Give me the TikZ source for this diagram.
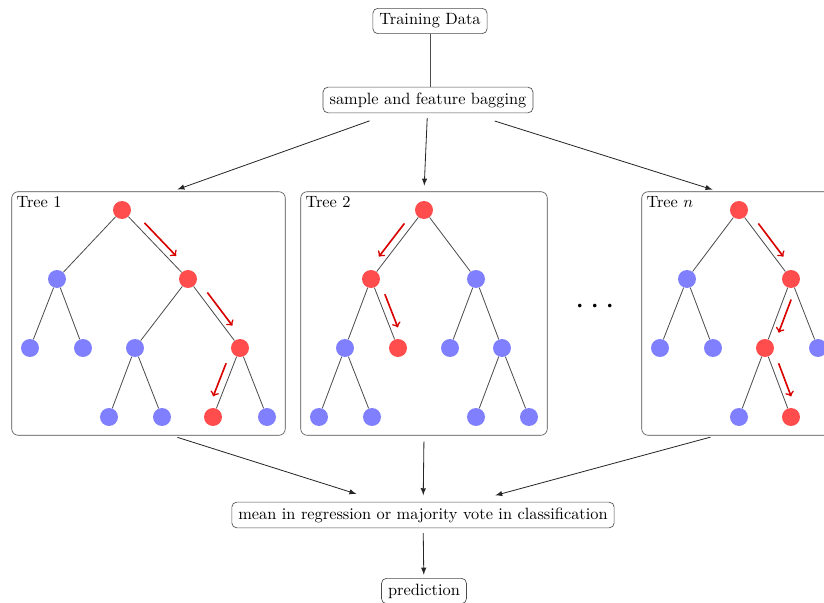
\documentclass[tikz,border=0pt]{standalone}
\usepackage{amsmath}
\usepackage{tikz}
\usetikzlibrary{calc,fit,arrows}

\tikzset{
  stagebox/.style={draw=black!70, rounded corners=3pt, inner ysep=3.3pt, inner xsep=4pt},
  treebox/.style={draw=black!70, rounded corners=4pt, inner sep=5.5pt},
  hit/.style={circle, fill=red!70, minimum size=11pt, inner sep=0pt},
  miss/.style={circle, fill=blue!50, minimum size=11pt, inner sep=0pt},
  branch/.style={draw=black!70, line width=0.5pt},
  flow/.style={-latex, draw=black!85, line width=0.5pt},
  walk/.style={->, draw=red!85!black, line width=1pt}
}
% red arrow running beside a branch, on side #3 (90 or -90)
\newcommand{\walkstep}[3]{\draw[walk] ($(#1)!0.26!(#2)!4.5pt!#3:(#2)$) -- ($(#1)!0.74!(#2)!4.5pt!#3:(#2)$);}

\begin{document}
\begin{tikzpicture}[x=0.0215cm, y=-0.0215cm]
    \useasboundingbox (0,0) rectangle (824,603);

    % pipeline
    \node[stagebox] (data) at (430,21) {Training Data};
    \node[stagebox] (bag) at (428,100) {sample and feature bagging};
    \node[stagebox] (mean) at (423,515) {mean in regression or majority vote in classification};
    \node[stagebox] (pred) at (424,591) {prediction};

    % tree 1
    \foreach \n/\x/\y/\s in {t1r/122/210/hit, t1a/57/279/miss, t1b/188/279/hit,
        t1c/30/348/miss, t1d/83/348/miss, t1e/135/348/miss, t1f/240/348/hit,
        t1g/109/417/miss, t1h/162/417/miss, t1i/213/417/hit, t1j/267/417/miss}
        \node[\s] (\n) at (\x,\y) {};
    \foreach \p/\c in {t1r/t1a, t1r/t1b, t1a/t1c, t1a/t1d, t1b/t1e, t1b/t1f,
        t1e/t1g, t1e/t1h, t1f/t1i, t1f/t1j}
        \draw[branch] (\p) -- (\c);
    \walkstep{t1r}{t1b}{90}
    \walkstep{t1b}{t1f}{90}
    \walkstep{t1f}{t1i}{-90}
    \node[treebox, fit=(t1r)(t1c)(t1g)(t1j)] (box1) {};
    \node[anchor=north west, inner sep=3pt] (lab1) at (box1.north west) {Tree 1};

    % tree 2
    \foreach \n/\x/\y/\s in {t2r/424/210/hit, t2a/371/279/hit, t2b/476/279/miss,
        t2c/345/348/miss, t2d/398/348/hit, t2e/450/348/miss, t2f/502/348/miss,
        t2g/319/417/miss, t2h/372/417/miss, t2i/476/417/miss, t2j/529/417/miss}
        \node[\s] (\n) at (\x,\y) {};
    \foreach \p/\c in {t2r/t2a, t2r/t2b, t2a/t2c, t2a/t2d, t2c/t2g, t2c/t2h,
        t2b/t2e, t2b/t2f, t2f/t2i, t2f/t2j}
        \draw[branch] (\p) -- (\c);
    \walkstep{t2r}{t2a}{-90}
    \walkstep{t2a}{t2d}{90}
    \node[treebox, fit=(t2r)(t2g)(t2j)] (box2) {};
    \node[anchor=north west, inner sep=3pt] (lab2) at (box2.north west) {Tree 2};

    % tree n
    \foreach \n/\x/\y/\s in {tnr/739/210/hit, tna/687/279/miss, tnb/791/279/hit,
        tnc/660/348/miss, tnd/713/348/miss, tne/765/348/hit, tnf/818/348/miss,
        tng/739/417/miss, tnh/791/417/hit}
        \node[\s] (\n) at (\x,\y) {};
    \foreach \p/\c in {tnr/tna, tnr/tnb, tna/tnc, tna/tnd, tnb/tne, tnb/tnf,
        tne/tng, tne/tnh}
        \draw[branch] (\p) -- (\c);
    \walkstep{tnr}{tnb}{90}
    \walkstep{tnb}{tne}{90}
    \walkstep{tne}{tnh}{90}
    \node[treebox, fit=(tnr)(tnc)(tnf)(tng)] (boxn) {};
    \node[anchor=north west, inner sep=3pt] (labn) at (boxn.north west) {Tree $n$};

    \node (dots) at (598,307) {\huge$\cdots$};

    % connectors
    \draw[branch] (data.south) -- (data.south |- bag.north);
    \draw[flow, shorten <=14pt, shorten >=3.5pt] (bag) -- ([shift={(23.5,0)}]box1.north);
    \draw[flow, shorten <=3pt, shorten >=3.5pt] (bag) -- (box2.north);
    \draw[flow, shorten <=16pt, shorten >=3.5pt] (bag) -- ([shift={(-21,0)}]boxn.north);
    \draw[flow, shorten <=3.5pt, shorten >=16pt] ([shift={(23.5,0)}]box1.south) -- (mean);
    \draw[flow, shorten <=3.5pt, shorten >=4pt] (box2.south) -- (mean);
    \draw[flow, shorten <=3.5pt, shorten >=15pt] ([shift={(-23,0)}]boxn.south) -- (mean);
    \draw[flow, shorten <=3pt, shorten >=2pt] (mean) -- (pred);
\end{tikzpicture}
\end{document}
